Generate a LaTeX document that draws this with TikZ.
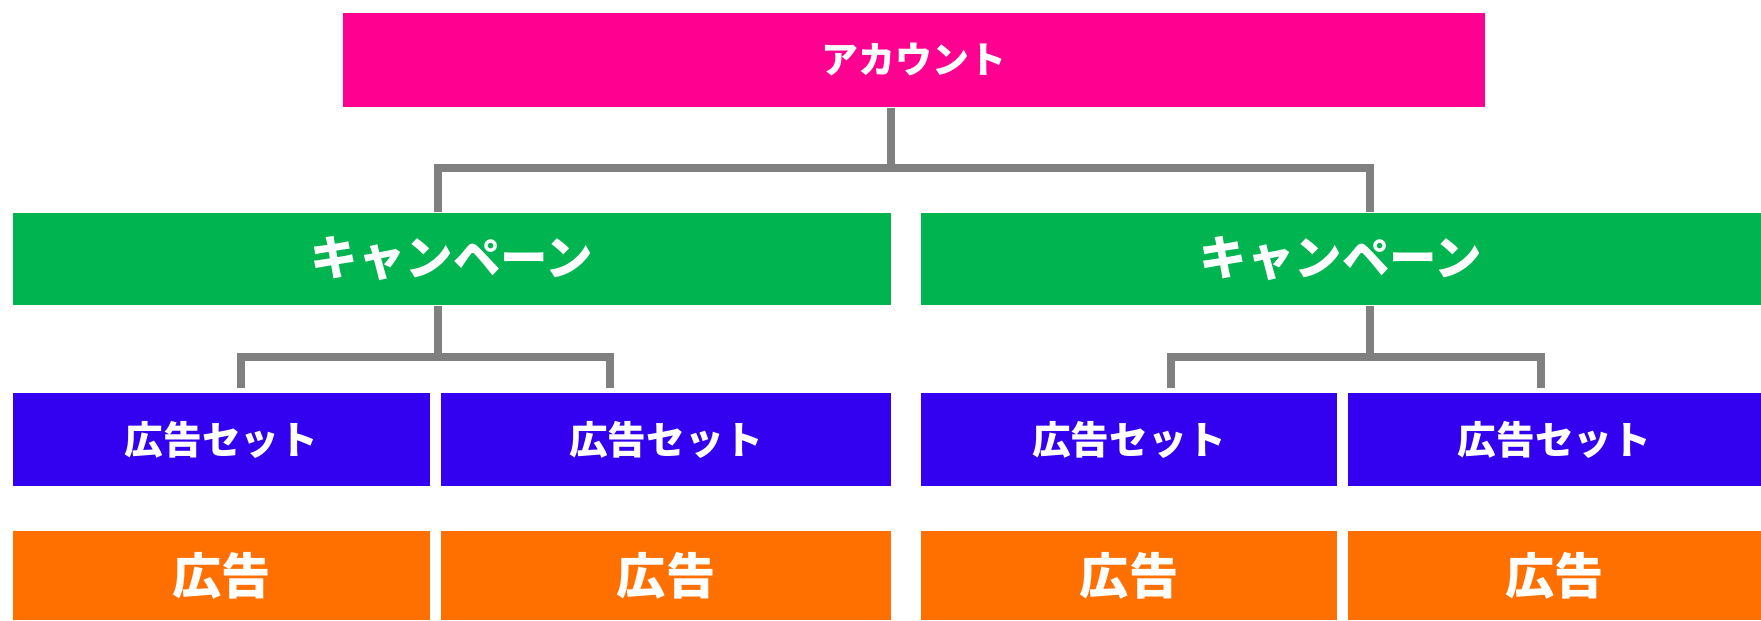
\documentclass[tikz,border=0pt]{standalone}
\usepackage{fontspec}
\setmainfont{Noto Sans CJK JP}
\usepackage{tikz}

\definecolor{acctpink}{HTML}{FF0090}
\definecolor{campgreen}{HTML}{00B450}
\definecolor{setblue}{HTML}{3300F0}
\definecolor{adorange}{HTML}{FF7000}
\definecolor{linkgray}{HTML}{808080}

\begin{document}
\begin{tikzpicture}[x=0.01cm, y=-0.01cm,
            nodes={rectangle, inner sep=0pt, text=white, text centered},
            acctbox/.style={fill=acctpink, minimum height=0.94cm, font=\bfseries\fontsize{10.5}{13}\selectfont},
            campbox/.style={fill=campgreen, minimum height=0.92cm, font=\bfseries\fontsize{13.5}{16}\selectfont},
            setbox/.style={fill=setblue, minimum height=0.93cm, font=\bfseries\fontsize{11}{13}\selectfont},
            adbox/.style={fill=adorange, minimum height=0.89cm, font=\bfseries\fontsize{14}{16}\selectfont},
            link/.style={draw=linkgray, line width=2.3pt}]
        \useasboundingbox (0,0) rectangle (1761,620);
        \node[acctbox, minimum width=11.42cm] (acct) at (914,60) {アカウント};
        \node[campbox, minimum width=8.78cm] (camp1) at (452,259) {キャンペーン};
        \node[campbox, minimum width=8.40cm] (camp2) at (1341,259) {キャンペーン};
        \node[setbox, minimum width=4.17cm] (set1) at (221.5,439.5) {広告セット};
        \node[setbox, minimum width=4.50cm] (set2) at (666,439.5) {広告セット};
        \node[setbox, minimum width=4.16cm] (set3) at (1129,439.5) {広告セット};
        \node[setbox, minimum width=4.13cm] (set4) at (1554.5,439.5) {広告セット};
        \node[adbox, minimum width=4.17cm] (ad1) at (221.5,575.5) {広告};
        \node[adbox, minimum width=4.50cm] (ad2) at (666,575.5) {広告};
        \node[adbox, minimum width=4.16cm] (ad3) at (1129,575.5) {広告};
        \node[adbox, minimum width=4.13cm] (ad4) at (1554.5,575.5) {広告};
        % junctions of the connectors
        \coordinate (j0) at (891,168);
        \coordinate (j1) at (438,168);
        \coordinate (j2) at (1370,168);
        \coordinate (k1) at (438,357);
        \coordinate (k2) at (1370,357);
        \coordinate (d1) at (241,388);
        \coordinate (d2) at (610,388);
        \coordinate (d3) at (1171,388);
        \coordinate (d4) at (1541,388);
        \draw[link] (j0 |- acct.south) -- (j0);
        \draw[link] (j1 |- camp1.north) -- (j1) -- (j2) -- (j2 |- camp2.north);
        \draw[link] (k1 |- camp1.south) -- (k1);
        \draw[link] (d1) -- (d1 |- k1) -- (d2 |- k1) -- (d2);
        \draw[link] (k2 |- camp2.south) -- (k2);
        \draw[link] (d3) -- (d3 |- k2) -- (d4 |- k2) -- (d4);
    \end{tikzpicture}
\end{document}
